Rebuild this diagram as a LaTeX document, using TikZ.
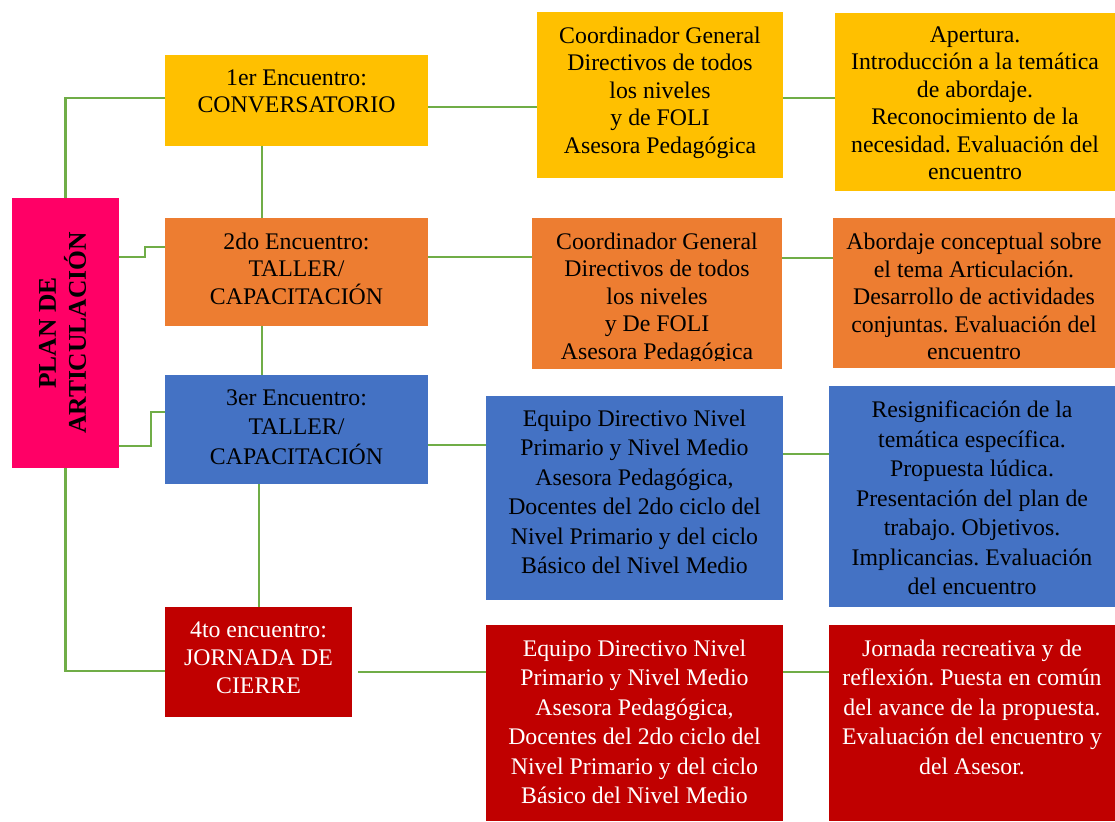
\documentclass[tikz,border=0pt]{standalone}
\usepackage{fontspec}
\setmainfont{Liberation Serif}
\frenchspacing
\definecolor{cyel}{HTML}{FFC000}
\definecolor{corg}{HTML}{ED7D31}
\definecolor{cblu}{HTML}{4472C4}
\definecolor{cred}{HTML}{C00000}
\definecolor{cpink}{HTML}{FF0066}
\definecolor{lgreen}{HTML}{70AD47}
\begin{document}
\begin{tikzpicture}[x=1pt,y=-1pt,
  box/.style={anchor=north west, inner sep=0pt, outer sep=0pt},
  link/.style={draw=lgreen, line width=2.4pt},
  txt/.style={align=center, anchor=north, inner sep=0pt, font=\fontsize{23.8}{27.5}\selectfont},
  txtw/.style={align=center, anchor=north, inner sep=0pt, font=\fontsize{23.8}{29.5}\selectfont},
]
\useasboundingbox (0,0) rectangle (1115,821);

% boxes
\node[box, fill=cpink, minimum width=107, minimum height=270] (pink) at (12,198) {};
\node[box, fill=cyel, minimum width=263, minimum height=91] (b1) at (165,55) {};
\node[box, fill=corg, minimum width=263, minimum height=108] (b2) at (165,218) {};
\node[box, fill=cblu, minimum width=263, minimum height=109] (b3) at (165,375) {};
\node[box, fill=cred, minimum width=187, minimum height=110] (b4) at (165,607) {};
\node[box, fill=cyel, minimum width=246, minimum height=166] (m1) at (537,12) {};
\node[box, fill=corg, minimum width=250, minimum height=151] (m2) at (532,218) {};
\node[box, fill=cblu, minimum width=297, minimum height=204] (m3) at (486,396) {};
\node[box, fill=cred, minimum width=297, minimum height=196] (m4) at (486,625) {};
\node[box, fill=cyel, minimum width=280, minimum height=178] (r1) at (835,13) {};
\node[box, fill=corg, minimum width=282, minimum height=150] (r2) at (833,218) {};
\node[box, fill=cblu, minimum width=286, minimum height=221] (r3) at (829,386) {};
\node[box, fill=cred, minimum width=286, minimum height=196] (r4) at (829,625) {};

% texts
\node[rotate=90, align=center, inner sep=0pt, font=\fontsize{25.5}{30}\selectfont\bfseries] (pinkt) at ([xshift=-3pt]pink.center) {PLAN DE\\ARTICULACIÓN};
\node[txt] (b1t) at ([yshift=-14.5pt]b1.north) {1er Encuentro:\\CONVERSATORIO};
\node[txt] (b2t) at ([yshift=-14.5pt]b2.north) {2do Encuentro:\\TALLER/\\CAPACITACIÓN};
\node[txtw] (b3t) at ([yshift=-14.5pt]b3.north) {3er Encuentro:\\TALLER/\\CAPACITACIÓN};
\node[txt, text=white, font=\fontsize{23.8}{28}\selectfont] (b4t) at ([yshift=-14.5pt]b4.north) {4to encuentro:\\JORNADA DE\\CIERRE};
\node[txt] (m1t) at ([yshift=-14.5pt]m1.north) {Coordinador General\\Directivos de todos\\los niveles\\y de FOLI\\Asesora Pedagógica};
\begin{scope}
\clip (m2.north west) rectangle ([yshift=9pt]m2.south east);
\node[txt] (m2t) at ([yshift=-14.5pt]m2.north) {Coordinador General\\Directivos de todos\\los niveles\\y De FOLI\\Asesora Pedagógica};
\end{scope}
\node[txtw] (m3t) at ([yshift=-13.5pt]m3.north) {Equipo Directivo Nivel\\Primario y Nivel Medio\\Asesora Pedagógica,\\Docentes del 2do ciclo del\\Nivel Primario y del ciclo\\Básico del Nivel Medio};
\node[txtw, text=white] (m4t) at ([yshift=-14.5pt]m4.north) {Equipo Directivo Nivel\\Primario y Nivel Medio\\Asesora Pedagógica,\\Docentes del 2do ciclo del\\Nivel Primario y del ciclo\\Básico del Nivel Medio};
\node[txt] (r1t) at ([yshift=-13.5pt]r1.north) {Apertura.\\Introducción a la temática\\de abordaje.\\Reconocimiento de la\\necesidad. Evaluación del\\encuentro};
\node[txt] (r2t) at ([yshift=-15pt]r2.north) {Abordaje conceptual sobre\\el tema Articulación.\\Desarrollo de actividades\\conjuntas. Evaluación del\\encuentro};
\node[txtw] (r3t) at ([yshift=-15pt]r3.north) {Resignificación de la\\temática específica.\\Propuesta lúdica.\\Presentación del plan de\\trabajo. Objetivos.\\Implicancias. Evaluación\\del encuentro};
\node[txtw, text=white] (r4t) at ([yshift=-14.5pt]r4.north) {Jornada recreativa y de\\reflexión. Puesta en común\\del avance de la propuesta.\\Evaluación del encuentro y\\del Asesor.};

% connectors from the plan box
\draw[link] (pink.north) -- (pink.north |- 0,98) -- (b1.west |- 0,98);
\draw[link] (pink.east |- 0,257) -- (145,257) -- (145,247) -- (b2.west |- 0,247);
\draw[link] (pink.east |- 0,446) -- (151,446) -- (151,412) -- (b3.west |- 0,412);
\draw[link] (pink.south) -- (pink.south |- 0,671) -- (b4.west |- 0,671);
% vertical chain
\draw[link] (b1.south -| 262,0) -- (b2.north -| 262,0);
\draw[link] (b2.south -| 262,0) -- (b3.north -| 262,0);
\draw[link] (b3.south -| 259,0) -- (b4.north -| 259,0);
% left to middle
\draw[link] (b1.east |- 0,107) -- (m1.west |- 0,107);
\draw[link] (b2.east |- 0,257) -- (m2.west |- 0,257);
\draw[link] (b3.east |- 0,445) -- (m3.west |- 0,445);
\coordinate (b4o) at ([xshift=6pt]b4.east |- 0,672);
\draw[link] (b4o) -- (m4.west |- 0,672);
% middle to right
\draw[link] (m1.east |- 0,98) -- (r1.west |- 0,98);
\draw[link] (m2.east |- 0,258) -- (r2.west |- 0,258);
\draw[link] (m3.east |- 0,454) -- (r3.west |- 0,454);
\draw[link] (m4.east |- 0,672) -- (r4.west |- 0,672);
\end{tikzpicture}
\end{document}
